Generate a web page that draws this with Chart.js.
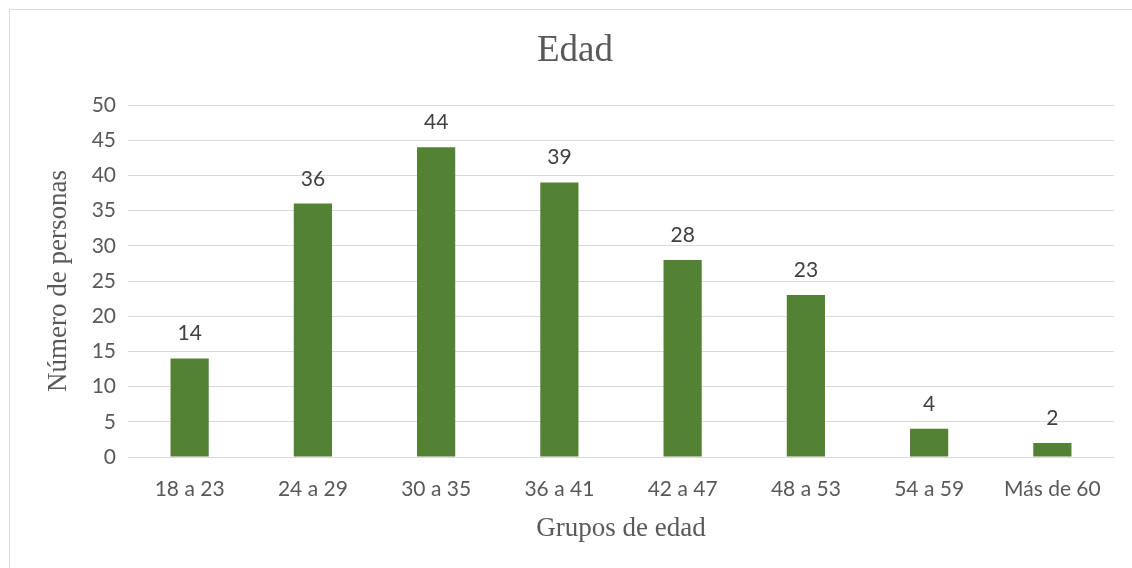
<!DOCTYPE html>
<html>
<head>
<meta charset="utf-8">
<script src="https://cdn.jsdelivr.net/npm/chart.js@4"></script>
<style>
  html, body { margin: 0; padding: 0; background: #fff; }
  #wrap { width: 1132px; height: 568px; position: relative; }
</style>
</head>
<body>
<div id="wrap"><canvas id="myChart"></canvas></div>
<script>
//
// Data
//

var categories = ['18 a 23', '24 a 29', '30 a 35', '36 a 41', '42 a 47', '48 a 53', '54 a 59', 'Más de 60'];
var personas = [14, 36, 44, 39, 28, 23, 4, 2];

var chartTitle = 'Edad';
var xTitle = 'Grupos de edad';
var yTitle = 'Número de personas';

var textColor = '#595959';
var barColor = '#548235';
var gridColor = '#d9d9d9';

//
// Plugins
//

// Outer frame + title drawn at fixed place, like the Excel chart box
var framePlugin = {
    id: 'frame',
    beforeDraw: function (chart) {
        var ctx = chart.ctx;
        ctx.save();
        ctx.strokeStyle = gridColor;
        ctx.lineWidth = 1;
        ctx.strokeRect(9.5, 9.5, 1140, 600);
        ctx.fillStyle = textColor;
        ctx.font = '37px "Liberation Serif"';
        ctx.textAlign = 'center';
        ctx.textBaseline = 'middle';
        ctx.fillText(chartTitle, 575, 51);
        ctx.restore();
    }
};

// Value labels above each bar
var valueLabels = {
    id: 'valueLabels',
    afterDatasetsDraw: function (chart) {
        var ctx = chart.ctx;
        var meta = chart.getDatasetMeta(0);
        ctx.save();
        ctx.fillStyle = '#404040';
        ctx.font = '21px Lato';
        ctx.textAlign = 'center';
        ctx.textBaseline = 'alphabetic';
        meta.data.forEach(function (bar, i) {
            ctx.fillText(String(personas[i]), bar.x, bar.y - 18);
        });
        ctx.restore();
    }
};

//
// Chart
//

var ctx = document.querySelector('#myChart').getContext('2d');
var chart = new Chart(ctx, {
    type: 'bar',
    data: {
        labels: categories,
        datasets: [{
            data: personas,
            backgroundColor: barColor,
            categoryPercentage: 1,
            barPercentage: 0.31
        }]
    },
    options: {
        responsive: true,
        maintainAspectRatio: false,
        animation: false,
        layout: { padding: { left: 43, right: 18, top: 105, bottom: 23 } },
        plugins: {
            legend: { display: false },
            tooltip: { enabled: false }
        },
        scales: {
            x: {
                grid: { display: false },
                border: { display: false },
                ticks: { color: textColor, font: { family: 'Lato', size: 21 }, padding: 12 },
                title: {
                    display: true, text: xTitle, color: textColor,
                    font: { family: 'Liberation Serif', size: 27 }, padding: { top: 0, bottom: 0 }
                },
                afterFit: function (scale) { scale.height = 88; }
            },
            y: {
                min: 0,
                max: 50,
                ticks: { stepSize: 5, color: textColor, font: { family: 'Lato', size: 21 }, padding: 12 },
                grid: { color: gridColor, drawTicks: false },
                border: { display: false },
                title: {
                    display: true, text: yTitle, color: textColor,
                    font: { family: 'Liberation Serif', size: 27 }, padding: { top: 0, bottom: 0 }
                },
                afterFit: function (scale) { scale.width = 85; }
            }
        }
    },
    plugins: [framePlugin, valueLabels]
});
</script>
</body>
</html>
